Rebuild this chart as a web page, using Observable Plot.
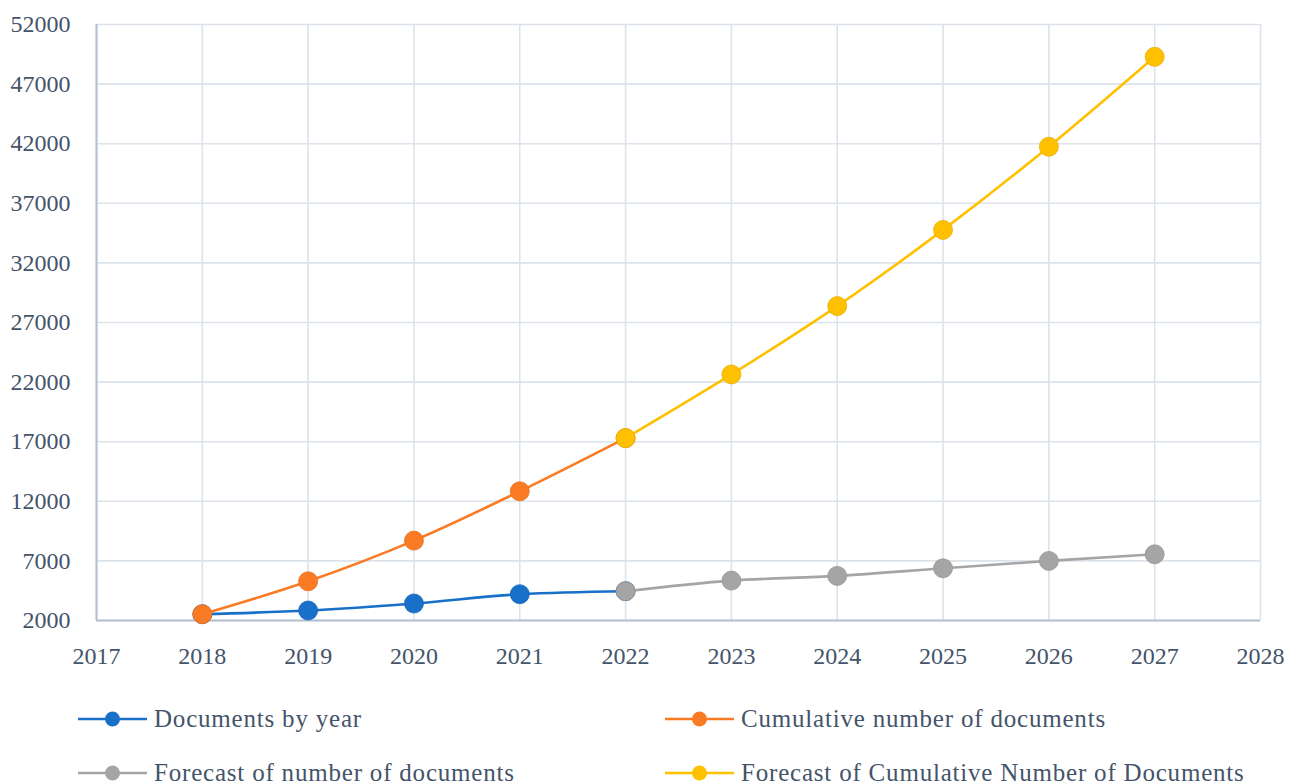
<!DOCTYPE html>
<html>
<head>
<meta charset="utf-8">
<script src="https://cdn.jsdelivr.net/npm/d3@7"></script>
<script src="https://cdn.jsdelivr.net/npm/@observablehq/plot@0.6"></script>
<style>
  body { margin: 0; background: #fff; }
  #chart { position: relative; width: 1296px; height: 781px; overflow: hidden; font-family: "Liberation Serif", serif; color: #44546A; }
  #chart svg.plot { display: block; }
  .legend-item { position: absolute; display: flex; align-items: center; height: 30px; font-size: 25px; letter-spacing: 0.8px; white-space: nowrap; }
  .legend-item svg { margin-right: 6px; flex: none; }
</style>
</head>
<body>
<div id="chart"></div>
<script>
// Observed documents, 2018–2022 (yearly and running total)
const observedYears = [2018, 2019, 2020, 2021, 2022];
const docsByYear = [2528, 2839, 3426, 4207, 4458];
const cumulativeDocs = [2528, 5289, 8703, 12839, 17302];

// Forecast, 2022–2027 (starts from the last observed year)
const forecastYears = [2022, 2023, 2024, 2025, 2026, 2027];
const forecastDocs = [4458, 5347, 5742, 6380, 7000, 7553];
const forecastCumulative = [17302, 22646, 28376, 34768, 41748, 49290];

// Axis ticks
const xTicks = [2017, 2018, 2019, 2020, 2021, 2022, 2023, 2024, 2025, 2026, 2027, 2028];
const yTicks = [2000, 7000, 12000, 17000, 22000, 27000, 32000, 37000, 42000, 47000, 52000];

// Series names and colours (draw order: later series sit on top)
const seriesNames = [
  "Documents by year",
  "Forecast of number of documents",
  "Cumulative number of documents",
  "Forecast of Cumulative Number of Documents"
];
const seriesColors = ["#1870C8", "#A5A5A5", "#FB7A24", "#FFC000"];
const seriesYears = [observedYears, forecastYears, observedYears, forecastYears];
const seriesValues = [docsByYear, forecastDocs, cumulativeDocs, forecastCumulative];

const rows = seriesNames.flatMap((name, i) =>
  seriesYears[i].map((year, j) => ({series: name, order: i, year, value: seriesValues[i][j]}))
);

const textColor = "#44546A";
const gridColor = "#DDE3EA";
const axisColor = "#B3C0CF";

const marks = [
  Plot.gridX(xTicks, {stroke: gridColor, strokeOpacity: 1, strokeWidth: 1.6}),
  Plot.gridY(yTicks, {stroke: gridColor, strokeOpacity: 1, strokeWidth: 1.6}),
  Plot.ruleX([xTicks[0]], {stroke: axisColor, strokeWidth: 2}),
  Plot.ruleY([yTicks[0]], {stroke: axisColor, strokeWidth: 2.2}),
  Plot.axisX(xTicks, {label: null, tickSize: 0, tickPadding: 26, tickFormat: d => String(d), fontSize: 24, fill: textColor}),
  Plot.axisY(yTicks, {label: null, tickSize: 0, tickPadding: 26, tickFormat: d => String(d), fontSize: 24, fill: textColor})
];

seriesNames.forEach((name, i) => {
  const data = rows.filter(d => d.order === i);
  marks.push(
    Plot.line(data, {x: "year", y: "value", stroke: seriesColors[i], strokeWidth: 2.6, curve: "monotone-x"}),
    Plot.dot(data, {x: "year", y: "value", r: 9.5, fill: seriesColors[i], stroke: d3.color(seriesColors[i]).darker(0.25).formatHex(), strokeWidth: 0.8})
  );
});

const chart = Plot.plot({
  width: 1296,
  height: 690,
  marginLeft: 96,
  marginRight: 36,
  marginTop: 24,
  marginBottom: 70,
  style: {fontFamily: "Liberation Serif, serif", fontSize: "24px", color: textColor, background: "#fff"},
  x: {domain: [2017, 2028], label: null},
  y: {domain: [2000, 52000], label: null},
  marks
});

const root = document.getElementById("chart");
root.appendChild(chart);

// Legend in two columns below the plot
const legendSlots = [
  {name: seriesNames[0], left: 78, cy: 719},
  {name: seriesNames[2], left: 665, cy: 719},
  {name: seriesNames[1], left: 78, cy: 773},
  {name: seriesNames[3], left: 665, cy: 773}
];
legendSlots.forEach(slot => {
  const i = seriesNames.indexOf(slot.name);
  const item = document.createElement("div");
  item.className = "legend-item";
  item.style.left = slot.left + "px";
  item.style.top = (slot.cy - 15) + "px";
  const sw = d3.create("svg").attr("width", 70).attr("height", 30);
  sw.append("line").attr("x1", 0).attr("x2", 69).attr("y1", 15).attr("y2", 15)
    .attr("stroke", seriesColors[i]).attr("stroke-width", 2.6);
  sw.append("circle").attr("cx", 34.5).attr("cy", 15).attr("r", 7.5).attr("fill", seriesColors[i]);
  item.appendChild(sw.node());
  const label = document.createElement("span");
  label.textContent = slot.name;
  item.appendChild(label);
  root.appendChild(item);
});
</script>
</body>
</html>
